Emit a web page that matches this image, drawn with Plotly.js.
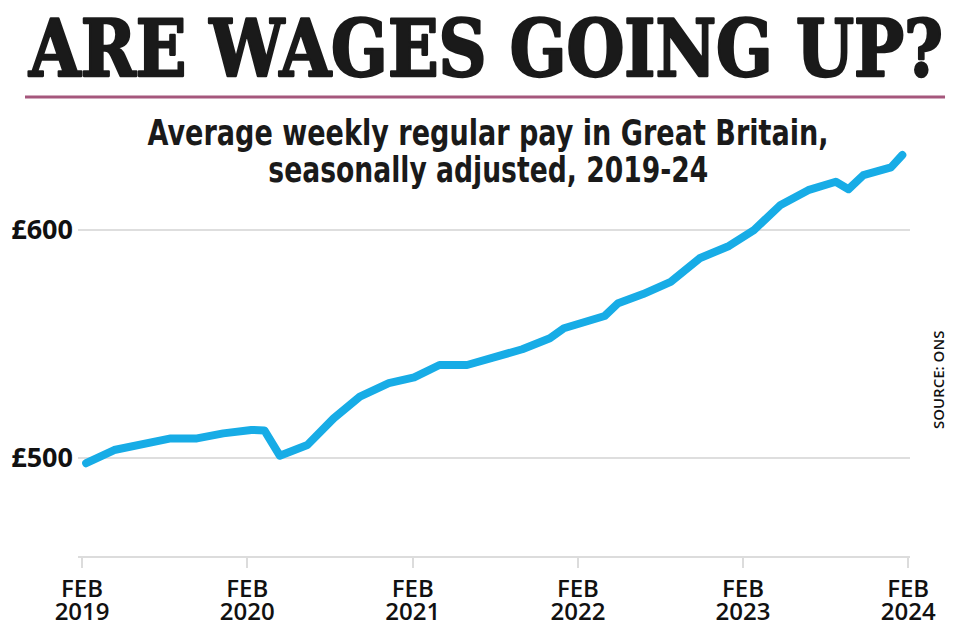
<!DOCTYPE html>
<html>
<head>
<meta charset="utf-8">
<script src="https://cdn.plot.ly/plotly-3.0.1.min.js"></script>
<style>
  html, body { margin: 0; padding: 0; background: #ffffff; }
  #chart { width: 960px; height: 640px; }
</style>
</head>
<body>
<div id="chart"></div>
<script>
// Average weekly regular pay, Great Britain, seasonally adjusted
const payDates = [
  '2019-02-10', '2019-04-13', '2019-08-16', '2019-10-13', '2019-12-10',
  '2020-02-10', '2020-03-10', '2020-04-13', '2020-06-13', '2020-08-10',
  '2020-10-07', '2020-12-10', '2021-02-04', '2021-04-01', '2021-06-01',
  '2021-08-07', '2021-10-01', '2021-12-01', '2022-01-01', '2022-04-01',
  '2022-05-01', '2022-06-25', '2022-08-25', '2022-10-28', '2023-01-01',
  '2023-02-25', '2023-04-25', '2023-06-25', '2023-08-25', '2023-09-22',
  '2023-10-25', '2023-12-25', '2024-01-19'
];
const weeklyPay = [
  497.7, 503.5, 508.6, 508.6, 510.8,
  512.3, 512.1, 501.0, 505.7, 517.4,
  526.9, 532.8, 535.4, 540.8, 540.8,
  544.2, 547.7, 552.5, 556.9, 562.3,
  567.9, 571.9, 577.3, 587.6, 593.0,
  600.0, 611.0, 617.5, 621.2, 617.9,
  624.1, 627.5, 632.9
];
const xTickDates = ['2019-02-01', '2020-02-01', '2021-02-01', '2022-02-01', '2023-02-01', '2024-02-01'];
const xTickLabels = ['FEB<br>2019', 'FEB<br>2020', 'FEB<br>2021', 'FEB<br>2022', 'FEB<br>2023', 'FEB<br>2024'];
const yTickValues = [500, 600];
const yTickLabels = ['£500', '£600'];

const mainTitle = 'ARE WAGES GOING UP?';
const subtitleLine1 = 'Average weekly regular pay in Great Britain,';
const subtitleLine2 = 'seasonally adjusted, 2019-24';
const sourceText = 'SOURCE: ONS';

const trace = {
  type: 'scatter',
  mode: 'lines',
  x: payDates,
  y: weeklyPay,
  line: { color: '#17ace6', width: 8, shape: 'linear' },
  hoverinfo: 'skip',
  showlegend: false
};

const subFont = { family: 'DejaVu Sans Condensed, DejaVu Sans, sans-serif', size: 35, color: '#1a1a1a', weight: 700 };
const TITLE_SIZE = 78;

const layout = {
  width: 960,
  height: 640,
  paper_bgcolor: '#ffffff',
  plot_bgcolor: '#ffffff',
  margin: { l: 78, r: 50, t: 140, b: 84, pad: 0 },
  showlegend: false,
  title: {
    text: mainTitle,
    x: 0.50625,
    xref: 'container',
    xanchor: 'center',
    y: 0.966,
    yref: 'container',
    yanchor: 'top',
    font: { family: 'DejaVu Serif Condensed, DejaVu Serif, serif', size: TITLE_SIZE, weight: 900, color: '#1a1a1a' }
  },
  xaxis: {
    type: 'date',
    range: ['2019-01-23', '2024-02-05'],
    tickmode: 'array',
    tickvals: xTickDates,
    ticktext: xTickLabels,
    ticks: 'outside',
    ticklen: 10,
    tickwidth: 2,
    tickcolor: '#dcdcdc',
    showline: true,
    linecolor: '#dcdcdc',
    linewidth: 2,
    showgrid: false,
    zeroline: false,
    fixedrange: true,
    tickfont: { family: 'Open Sans, sans-serif', size: 24, weight: 600, color: '#111111' }
  },
  yaxis: {
    range: [457, 639.5],
    tickmode: 'array',
    tickvals: yTickValues,
    ticktext: yTickLabels,
    ticks: '',
    ticklabelstandoff: 4,
    showline: false,
    showgrid: true,
    gridcolor: '#dedede',
    gridwidth: 2,
    zeroline: false,
    fixedrange: true,
    tickfont: { family: 'Open Sans, sans-serif', size: 27, weight: 700, color: '#111111' }
  },
  shapes: [
    {
      type: 'line', xref: 'paper', yref: 'paper',
      x0: -0.0637, x1: 1.0421, y0: 1.1034, y1: 1.1034,
      line: { color: '#a5577c', width: 3 }
    }
  ],
  annotations: [
    {
      text: subtitleLine1, xref: 'paper', yref: 'paper',
      x: 0.4928, y: 1.0168, xanchor: 'center', yanchor: 'middle',
      showarrow: false, font: subFont
    },
    {
      text: subtitleLine2, xref: 'paper', yref: 'paper',
      x: 0.4928, y: 0.929, xanchor: 'center', yanchor: 'middle',
      showarrow: false, font: subFont
    },
    {
      text: sourceText, xref: 'paper', yref: 'paper',
      x: 1.0337, y: 0.423, xanchor: 'center', yanchor: 'middle',
      textangle: -90, showarrow: false,
      font: { family: 'Open Sans, sans-serif', size: 15, weight: 600, color: '#111111' }
    }
  ]
};

Plotly.newPlot('chart', [trace], layout, { staticPlot: true, displayModeBar: false }).then(function (gd) {
  // condense the headline: shrink the font so it fits the reference width,
  // then stretch it vertically back to the reference cap height
  const t = gd.querySelector('.gtitle');
  if (t) {
    const targetW = 914;
    const natural = t.getComputedTextLength();
    if (natural > targetW) {
      const s = targetW / natural;
      const y0 = parseFloat(t.getAttribute('y'));
      const baseline = y0 + 0.7 * TITLE_SIZE;
      const newSize = TITLE_SIZE * s;
      const newBaseline = y0 + 0.7 * newSize;
      t.style.fontSize = newSize + 'px';
      t.setAttribute('transform',
        'translate(0,' + baseline + ') scale(1,' + (1 / s) + ') translate(0,' + (-newBaseline) + ')');
    }
    t.style.stroke = '#1a1a1a';
    t.style.strokeWidth = '2.2px';
    t.style.strokeLinejoin = 'round';
  }
  // condense subtitle lines to the reference widths
  const subWidths = [681, 440];
  gd.querySelectorAll('.annotation-text').forEach(function (txt) {
    const s = txt.textContent;
    let w = null;
    if (s === subtitleLine1) w = subWidths[0];
    if (s === subtitleLine2) w = subWidths[1];
    if (w) {
      txt.setAttribute('textLength', String(w));
      txt.setAttribute('lengthAdjust', 'spacingAndGlyphs');
    }
  });
  // tighter line spacing for two-line x tick labels
  gd.querySelectorAll('.xtick text').forEach(function (txt) {
    const lines = txt.querySelectorAll('tspan.line');
    for (let i = 1; i < lines.length; i++) lines[i].setAttribute('dy', '0.97em');
  });
  // round joins for the line
  gd.querySelectorAll('.scatterlayer path.js-line').forEach(function (p) {
    p.style.strokeLinejoin = 'round';
    p.style.strokeLinecap = 'round';
  });
});
</script>
</body>
</html>
